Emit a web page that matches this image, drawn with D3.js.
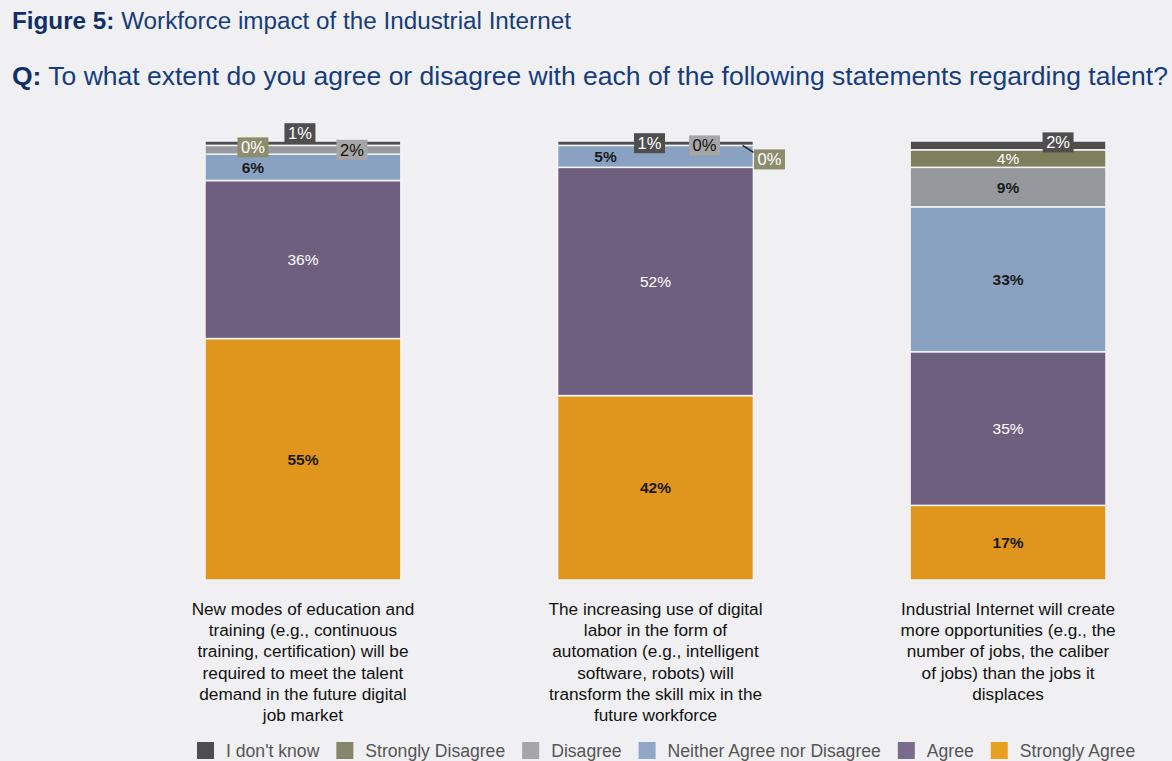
<!DOCTYPE html>
<html>
<head>
<meta charset="utf-8">
<script src="https://cdn.jsdelivr.net/npm/d3@7"></script>
<style>
  html, body { margin: 0; padding: 0; background: #f0f0f2; }
  svg { display: block; font-family: "Liberation Sans", Arial, Helvetica, sans-serif; }
</style>
</head>
<body>
<svg id="chart" width="1172" height="761"></svg>
<script>
// ---- data ----
const statements = [
  ["New modes of education and", "training (e.g., continuous", "training, certification) will be", "required to meet the talent", "demand in the future digital", "job market"],
  ["The increasing use of digital", "labor in the form of", "automation (e.g., intelligent", "software, robots) will", "transform the skill mix in the", "future workforce"],
  ["Industrial Internet will create", "more opportunities (e.g., the", "number of jobs, the caliber", "of jobs) than the jobs it", "displaces"]
];
const categoryIds = ["education", "automation", "opportunities"];

// responses, listed in legend order
const responses = ["I don't know", "Strongly Disagree", "Disagree", "Neither Agree nor Disagree", "Agree", "Strongly Agree"];

const dontKnow          = [1, 1, 2];
const stronglyDisagree  = [0, 0, 4];
const disagree          = [2, 0, 9];
const neither           = [6, 5, 33];
const agree             = [36, 52, 35];
const stronglyAgree     = [55, 42, 17];

const colors = {
  "I don't know": "#4e4e4e",
  "Strongly Disagree": "#7f7f5e",
  "Disagree": "#95989c",
  "Neither Agree nor Disagree": "#8aa2c2",
  "Agree": "#6f5f7e",
  "Strongly Agree": "#e0951d"
};
const legendColors = {
  "I don't know": "#4e4e4e",
  "Strongly Disagree": "#86866a",
  "Disagree": "#a6a6a6",
  "Neither Agree nor Disagree": "#8fa8c8",
  "Agree": "#7a6a8c",
  "Strongly Agree": "#e8a020"
};

// ---- table for stacking ----
const valuesBySeries = {
  "I don't know": dontKnow,
  "Strongly Disagree": stronglyDisagree,
  "Disagree": disagree,
  "Neither Agree nor Disagree": neither,
  "Agree": agree,
  "Strongly Agree": stronglyAgree
};
const table = categoryIds.map((id, i) => {
  const row = { id };
  responses.forEach(r => row[r] = valuesBySeries[r][i]);
  return row;
});
// bottom to top: Strongly Agree first
const stackOrder = responses.slice().reverse();
const stacked = d3.stack().keys(stackOrder)(table);

const svg = d3.select("#chart");

// ---- scales ----
const x = d3.scaleBand().domain(categoryIds).range([205, 1106]).paddingInner(0.4444).paddingOuter(0);
const y = d3.scaleLinear().domain([0, 100]).range([580, 141]);

// ---- headings ----
function fitText(sel, target) {
  const node = sel.node();
  const fs = parseFloat(sel.attr("font-size"));
  const w = node.getComputedTextLength();
  sel.attr("font-size", (fs * target / w).toFixed(2));
}
const navy = "#163d7a";
const t1 = svg.append("text").attr("x", 12).attr("y", 29).attr("font-size", 20).attr("fill", navy);
t1.append("tspan").attr("font-weight", "bold").attr("fill", "#0f2f66").text("Figure 5:");
t1.append("tspan").text(" Workforce impact of the Industrial Internet");
fitText(t1, 559);

const t2 = svg.append("text").attr("x", 12).attr("y", 85).attr("font-size", 24).attr("fill", navy);
t2.append("tspan").attr("font-weight", "bold").attr("fill", "#0f2f66").text("Q:");
t2.append("tspan").text(" To what extent do you agree or disagree with each of the following statements regarding talent?");
fitText(t2, 1156);

// ---- bars ----
const layers = svg.append("g").selectAll("g").data(stacked).join("g")
  .attr("fill", d => colors[d.key]);
layers.selectAll("rect").data(d => d).join("rect")
  .attr("x", d => x(d.data.id))
  .attr("width", x.bandwidth())
  .attr("y", d => y(d[1]))
  .attr("height", d => Math.max(0, y(d[0]) - y(d[1])))
  .attr("stroke", "#f4f4f6")
  .attr("stroke-width", 1.5);

// ---- value labels ----
// placement per response and bar: offset from segment centre, optional box
const labelStyle = {
  "Strongly Agree": [{}, {}, {}],
  "Agree": [{ white: true }, { white: true }, { white: true }],
  "Neither Agree nor Disagree": [{ dx: -50 }, { dx: -50 }, {}],
  "Disagree": [{ dx: 49, box: "#a6a6a6" }, { dx: 49, box: "#a6a6a6" }, {}],
  "Strongly Disagree": [{ dx: -50, dy: 2, box: "#8d8d6e", white: true },
                        { dx: 114, dy: 14, box: "#8d8d6e", white: true, leader: [-27, -14, -16, -7] },
                        { white: true }],
  "I don't know": [{ dx: -3, dy: -10, box: "#4e4e4e", white: true },
                   { dx: -6, dy: 0, box: "#4e4e4e", white: true },
                   { dx: 50, dy: -3, box: "#4e4e4e", white: true }]
};

const labelG = svg.append("g");
stacked.forEach(layer => {
  layer.forEach((d, i) => {
    const st = labelStyle[layer.key][i];
    const cx = x(d.data.id) + x.bandwidth() / 2 + (st.dx || 0);
    const cy = (y(d[0]) + y(d[1])) / 2 + (st.dy || 0);
    const value = d[1] - d[0];
    const txt = value + "%";
    if (st.leader) {
      labelG.append("line")
        .attr("x1", cx + st.leader[0]).attr("y1", cy + st.leader[1])
        .attr("x2", cx + st.leader[2]).attr("y2", cy + st.leader[3])
        .attr("stroke", "#222").attr("stroke-width", 1.5);
    }
    if (st.box) {
      labelG.append("rect")
        .attr("x", cx - 15.5).attr("y", cy - 10)
        .attr("width", 31).attr("height", 20)
        .attr("fill", st.box);
      labelG.append("text")
        .attr("x", cx).attr("y", cy + 6)
        .attr("text-anchor", "middle")
        .attr("font-size", 16.5)
        .attr("fill", st.white ? "#ffffff" : "#111")
        .text(txt);
    } else {
      labelG.append("text")
        .attr("x", cx).attr("y", cy + 5.5)
        .attr("text-anchor", "middle")
        .attr("font-size", 15.5)
        .attr("font-weight", st.white ? "normal" : "bold")
        .attr("fill", st.white ? "#ffffff" : "#1a1a1a")
        .text(txt);
    }
  });
});

// ---- category labels ----
const catG = svg.append("g");
categoryIds.forEach((id, i) => {
  const cx = x(id) + x.bandwidth() / 2;
  const t = catG.append("text")
    .attr("x", cx)
    .attr("y", 615)
    .attr("text-anchor", "middle")
    .attr("font-size", 17.2)
    .attr("fill", "#111");
  statements[i].forEach((line, j) => {
    t.append("tspan").attr("x", cx).attr("dy", j === 0 ? 0 : 21.2).text(line);
  });
});

// ---- legend ----
const legend = svg.append("g");
let lx = 197;
responses.forEach(r => {
  legend.append("rect").attr("x", lx).attr("y", 742).attr("width", 17).attr("height", 17)
    .attr("fill", legendColors[r]);
  const t = legend.append("text").attr("x", lx + 29).attr("y", 757)
    .attr("font-size", 17.6).attr("fill", "#555").text(r);
  lx += 29 + t.node().getComputedTextLength() + 17;
});
</script>
</body>
</html>
